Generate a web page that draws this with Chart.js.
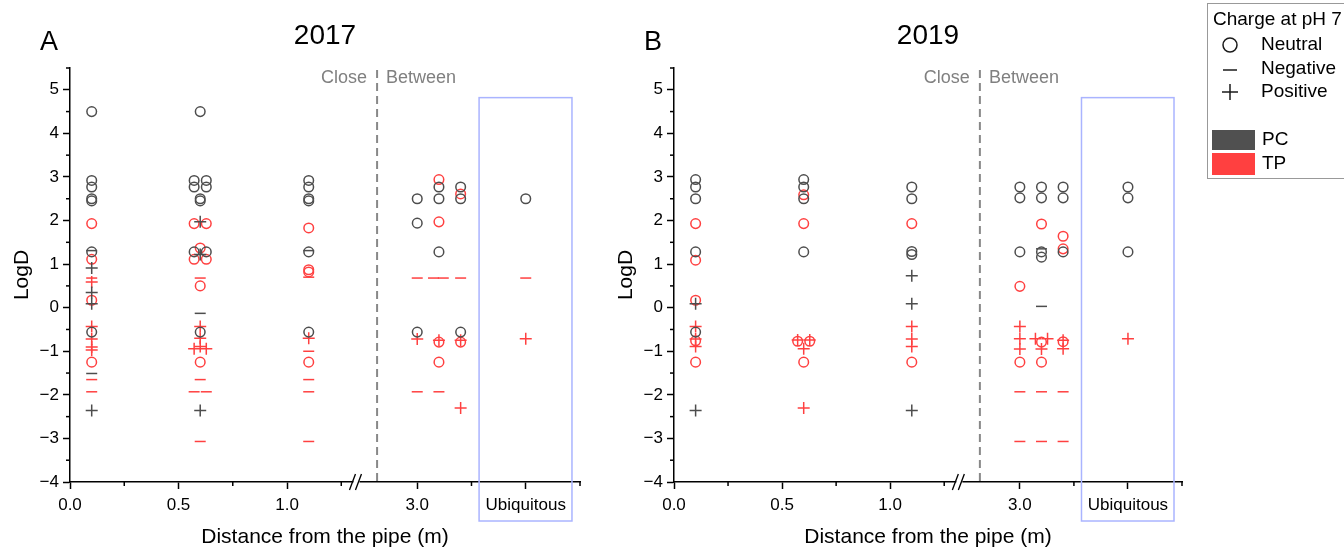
<!DOCTYPE html>
<html>
<head>
<meta charset="utf-8">
<script src="https://cdn.jsdelivr.net/npm/chart.js@4.4.0/dist/chart.umd.min.js"></script>
<style>
  html, body { margin: 0; padding: 0; background: #fff; }
  #wrap { position: relative; width: 1344px; height: 548px; overflow: hidden; }
  canvas { position: absolute; top: 0; }
  #chartA { left: 0; }
  #chartB { left: 604px; }
</style>
</head>
<body>
<div id="wrap">
  <canvas id="chartA" width="600" height="548"></canvas>
  <canvas id="chartB" width="740" height="548"></canvas>
</div>
<script>
// x is in axis units: 0 - 1.0 m is to scale, then the axis is broken
const xTickValues = [0, 0.5, 1.0, 1.6, 2.1];
const xTickLabels = ['0.0', '0.5', '1.0', '3.0', 'Ubiquitous'];
const xMinorTicks = [0.25, 0.75, 1.25, 1.85, 2.35];
const yMajorTicks = [-4, -3, -2, -1, 0, 1, 2, 3, 4, 5];
const yMinorTicks = [-3.5, -2.5, -1.5, -0.5, 0.5, 1.5, 2.5, 3.5, 4.5, 5.5];
const xBreak = 1.32;      // the // mark
const xDivider = 1.415;   // Close | Between
const ubiqBox = [1.885, 2.313];

// 2017 (panel A) - [x, logD]
const pcNeutral2017 = [
  [0.1, 4.5], [0.1, 2.92], [0.1, 2.77], [0.1, 2.5], [0.1, 2.45], [0.1, 1.28], [0.1, -0.56],
  [0.6, 4.5], [0.572, 2.92], [0.628, 2.92], [0.572, 2.77], [0.628, 2.77], [0.6, 2.5], [0.6, 2.45],
  [0.572, 1.28], [0.628, 1.28], [0.6, -0.56],
  [1.1, 2.92], [1.1, 2.77], [1.1, 2.5], [1.1, 2.45], [1.1, 1.28], [1.1, -0.56],
  [1.6, 2.5], [1.6, 1.94], [1.6, -0.56],
  [1.7, 2.77], [1.7, 2.5], [1.7, 1.28],
  [1.8, 2.77], [1.8, 2.5], [1.8, -0.56],
  [2.1, 2.5]
];
const pcNegative2017 = [[0.1, 1.31], [0.1, -1.51], [0.6, -0.13], [1.1, 1.31]];
const pcPositive2017 = [[0.1, 0.91], [0.1, 0.35], [0.1, 0.09], [0.1, -2.36], [0.6, 1.97], [0.6, 1.22], [0.6, -2.36]];
const tpNeutral2017 = [
  [0.1, 1.93], [0.1, 1.11], [0.1, 0.17], [0.1, -1.25],
  [0.572, 1.93], [0.628, 1.93], [0.6, 1.37], [0.572, 1.11], [0.628, 1.11], [0.6, 0.5], [0.6, -1.25],
  [1.1, 1.83], [1.1, 0.87], [1.1, 0.82], [1.1, -1.25],
  [1.7, 2.94], [1.7, 1.97], [1.7, -0.79], [1.7, -1.25],
  [1.8, 2.61], [1.8, -0.79]
];
const tpNegative2017 = [
  [0.1, 0.68], [0.1, -1.65], [0.1, -1.93],
  [0.6, 0.68], [0.6, -1.65], [0.572, -1.93], [0.628, -1.93], [0.6, -3.07],
  [1.1, 0.7], [1.1, -1.0], [1.1, -1.65], [1.1, -1.93], [1.1, -3.07],
  [1.6, 0.68], [1.6, -1.93],
  [1.675, 0.68], [1.72, 0.68], [1.7, -1.93],
  [1.8, 0.68],
  [2.1, 0.68]
];
const tpPositive2017 = [
  [0.1, 0.59], [0.1, -0.43], [0.1, -0.72], [0.1, -0.9], [0.1, -0.97],
  [0.6, -0.43], [0.6, -0.7], [0.6, -0.89], [0.572, -0.94], [0.628, -0.94],
  [1.1, -0.7],
  [1.6, -0.72],
  [1.7, -0.75],
  [1.8, -0.75], [1.8, -2.3],
  [2.1, -0.71]
];

// 2019 (panel B)
const pcNeutral2019 = [
  [0.1, 2.94], [0.1, 2.77], [0.1, 2.5], [0.1, 1.28], [0.1, -0.56],
  [0.6, 2.94], [0.6, 2.77], [0.6, 2.5], [0.6, 1.28],
  [1.1, 2.77], [1.1, 2.5], [1.1, 1.29], [1.1, 1.22],
  [1.6, 2.77], [1.6, 2.52], [1.6, 1.28],
  [1.7, 2.77], [1.7, 2.52], [1.7, 1.28], [1.7, 1.16],
  [1.8, 2.77], [1.8, 2.52], [1.8, 1.28],
  [2.1, 2.77], [2.1, 2.52], [2.1, 1.28]
];
const pcNegative2019 = [[1.7, 1.35], [1.7, 0.03]];
const pcPositive2019 = [[0.1, 0.09], [0.1, -2.36], [1.1, 0.73], [1.1, 0.09], [1.1, -2.36]];
const tpNeutral2019 = [
  [0.1, 1.93], [0.1, 1.09], [0.1, 0.17], [0.1, -0.76], [0.1, -1.25],
  [0.6, 2.59], [0.6, 1.93], [0.572, -0.77], [0.628, -0.77], [0.6, -1.25],
  [1.1, 1.93], [1.1, -1.25],
  [1.6, 0.49], [1.6, -1.25],
  [1.7, 1.92], [1.7, -0.79], [1.7, -1.25],
  [1.8, 1.64], [1.8, 1.35], [1.8, -0.78]
];
const tpNegative2019 = [[1.6, -1.93], [1.6, -3.07], [1.7, -1.93], [1.7, -3.07], [1.8, -1.93], [1.8, -3.07]];
const tpPositive2019 = [
  [0.1, -0.43], [0.1, -0.72], [0.1, -0.89],
  [0.572, -0.74], [0.628, -0.74], [0.6, -0.94], [0.6, -2.3],
  [1.1, -0.43], [1.1, -0.72], [1.1, -0.89],
  [1.6, -0.43], [1.6, -0.71], [1.6, -0.95],
  [1.672, -0.71], [1.728, -0.71], [1.7, -0.95],
  [1.8, -0.75], [1.8, -0.94],
  [2.1, -0.71]
];

const FONT = '"Liberation Sans", Arial, sans-serif';
const PC_COLOR = '#4d4d4d';
const TP_COLOR = '#ff4040';

function series(points, color, style) {
  const radius = style === 'circle' ? 4.8 : (style === 'line' ? 5.5 : 6);
  return {
    data: points.map(([x, y]) => ({ x, y })),
    pointStyle: style,
    pointRadius: radius,
    pointHoverRadius: radius,
    pointBorderColor: color,
    pointBackgroundColor: 'rgba(0,0,0,0)',
    pointBorderWidth: 1.5,
    borderColor: color,
    showLine: false
  };
}

function line(ctx, x1, y1, x2, y2) {
  ctx.beginPath();
  ctx.moveTo(x1, y1);
  ctx.lineTo(x2, y2);
  ctx.stroke();
}

// minor ticks, axis break, divider, ubiquitous box and panel letter
const panelDecor = {
  id: 'panelDecor',
  afterDraw(chart, args, opts) {
    const { ctx, chartArea } = chart;
    const x = chart.scales.x, y = chart.scales.y;
    ctx.save();
    ctx.strokeStyle = '#000';
    ctx.lineWidth = 1.5;
    xMinorTicks.forEach(v => {
      const px = x.getPixelForValue(v);
      line(ctx, px, chartArea.bottom, px, chartArea.bottom + 4);
    });
    yMinorTicks.forEach(v => {
      const py = y.getPixelForValue(v);
      line(ctx, chartArea.left - 4, py, chartArea.left, py);
    });

    // axis break //
    const bx = x.getPixelForValue(xBreak);
    const by = chartArea.bottom;
    ctx.fillStyle = '#fff';
    ctx.fillRect(bx - 3, by - 2, 6, 4);
    ctx.lineWidth = 1.3;
    line(ctx, bx - 7, by + 8, bx - 1, by - 8);
    line(ctx, bx - 1, by + 8, bx + 5, by - 8);

    // dashed divider
    const dx = x.getPixelForValue(xDivider);
    ctx.strokeStyle = '#888';
    ctx.lineWidth = 2;
    ctx.setLineDash([8, 5]);
    line(ctx, dx, chartArea.top + 2, dx, chartArea.bottom);
    ctx.setLineDash([]);

    ctx.font = '18px ' + FONT;
    ctx.fillStyle = '#808080';
    ctx.textBaseline = 'middle';
    ctx.textAlign = 'right';
    ctx.fillText('Close', dx - 10, 78);
    ctx.textAlign = 'left';
    ctx.fillText('Between', dx + 9, 78);

    // ubiquitous box
    const l = x.getPixelForValue(ubiqBox[0]);
    const r = x.getPixelForValue(ubiqBox[1]);
    const t = y.getPixelForValue(4.82);
    ctx.strokeStyle = '#aab4ff';
    ctx.lineWidth = 1.5;
    ctx.strokeRect(l, t, r - l, chartArea.bottom + 39 - t);

    // panel letter
    ctx.fillStyle = '#000';
    ctx.font = '27px ' + FONT;
    ctx.textAlign = 'left';
    ctx.fillText(opts.letter, 40, 43);
    ctx.restore();
  }
};

// legend box at the far right (drawn on panel B's canvas)
const chargeLegend = {
  id: 'chargeLegend',
  afterDraw(chart) {
    const ctx = chart.ctx;
    const ox = 603;
    ctx.save();
    ctx.strokeStyle = '#999';
    ctx.lineWidth = 1;
    ctx.strokeRect(ox + 0.5, 3.5, 200, 175);
    ctx.fillStyle = '#000';
    ctx.font = '19px ' + FONT;
    ctx.textBaseline = 'middle';
    ctx.textAlign = 'left';
    ctx.fillText('Charge at pH 7', ox + 6, 20);

    const mx = ox + 23;
    ctx.strokeStyle = '#1a1a1a';
    ctx.lineWidth = 1.5;
    ctx.beginPath();
    ctx.arc(mx, 45, 7, 0, Math.PI * 2);
    ctx.stroke();
    line(ctx, mx - 7, 70, mx + 7, 70);
    line(ctx, mx - 8, 92, mx + 8, 92);
    line(ctx, mx, 84, mx, 100);
    ctx.fillText('Neutral', ox + 54, 45);
    ctx.fillText('Negative', ox + 54, 69);
    ctx.fillText('Positive', ox + 54, 92);

    ctx.fillStyle = '#505050';
    ctx.fillRect(ox + 5, 130, 43, 20);
    ctx.fillStyle = TP_COLOR;
    ctx.fillRect(ox + 5, 153, 43, 22);
    ctx.fillStyle = '#000';
    ctx.fillText('PC', ox + 55, 140);
    ctx.fillText('TP', ox + 55, 164);
    ctx.restore();
  }
};

function buildChart(canvasId, year, letter, sets, rightPad, extraPlugins) {
  return new Chart(document.getElementById(canvasId), {
    type: 'scatter',
    data: {
      datasets: [
        series(sets[0], PC_COLOR, 'circle'),
        series(sets[1], PC_COLOR, 'line'),
        series(sets[2], PC_COLOR, 'cross'),
        series(sets[3], TP_COLOR, 'circle'),
        series(sets[4], TP_COLOR, 'line'),
        series(sets[5], TP_COLOR, 'cross')
      ]
    },
    options: {
      responsive: false,
      animation: false,
      events: [],
      layout: { padding: { left: 0, right: rightPad, top: 0, bottom: 0 } },
      plugins: {
        legend: { display: false },
        tooltip: { enabled: false },
        title: {
          display: true,
          text: year,
          fullSize: false,
          color: '#000',
          font: { family: FONT, size: 28, weight: 'normal' },
          padding: { top: 19, bottom: 15.4 }
        },
        panelDecor: { letter: letter }
      },
      scales: {
        x: {
          type: 'linear',
          min: 0,
          max: 2.35,
          afterBuildTicks: axis => { axis.ticks = xTickValues.map(v => ({ value: v })); },
          afterFit: axis => { axis.height = 66; },
          border: { color: '#000', width: 1.5 },
          grid: { drawOnChartArea: false, tickLength: 7, tickColor: '#000', tickWidth: 1.5 },
          ticks: {
            color: '#000',
            font: { family: FONT, size: 17 },
            padding: 6,
            maxRotation: 0,
            autoSkip: false,
            callback: value => xTickLabels[xTickValues.indexOf(value)]
          },
          title: {
            display: true,
            text: 'Distance from the pipe (m)',
            color: '#000',
            font: { family: FONT, size: 21 },
            padding: { top: 0, bottom: -2 }
          }
        },
        y: {
          type: 'linear',
          min: -4,
          max: 5.5,
          afterBuildTicks: axis => { axis.ticks = yMajorTicks.map(v => ({ value: v })); },
          afterFit: axis => { axis.width = 70; },
          border: { color: '#000', width: 1.5 },
          grid: { drawOnChartArea: false, tickLength: 7, tickColor: '#000', tickWidth: 1.5 },
          ticks: {
            color: '#000',
            font: { family: FONT, size: 17 },
            padding: 4,
            callback: value => String(value).replace('-', '\u2212')
          },
          title: {
            display: true,
            text: 'LogD',
            color: '#000',
            font: { family: FONT, size: 21 },
            padding: { top: 10, bottom: 0 }
          }
        }
      }
    },
    plugins: [panelDecor].concat(extraPlugins)
  });
}

buildChart('chartA', '2017', 'A',
  [pcNeutral2017, pcNegative2017, pcPositive2017, tpNeutral2017, tpNegative2017, tpPositive2017], 20, []);
buildChart('chartB', '2019', 'B',
  [pcNeutral2019, pcNegative2019, pcPositive2019, tpNeutral2019, tpNegative2019, tpPositive2019], 162, [chargeLegend]);
</script>
</body>
</html>
